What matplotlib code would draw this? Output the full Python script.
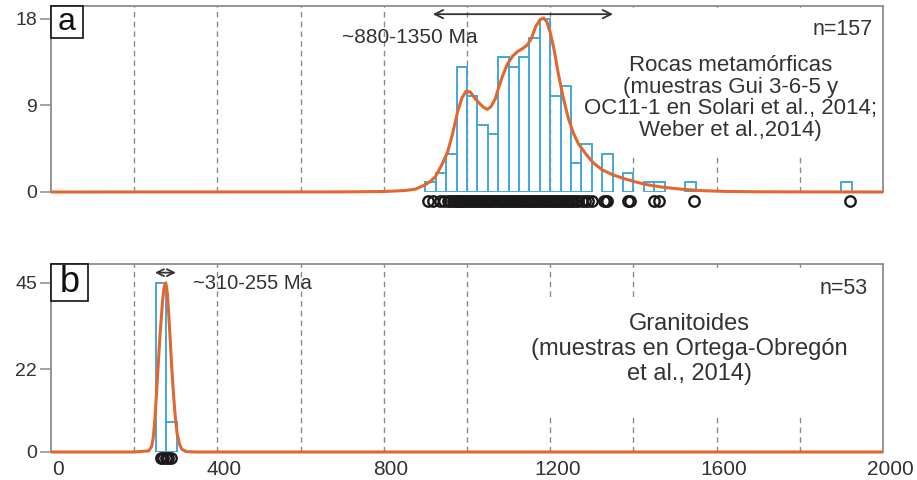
import matplotlib
matplotlib.use("Agg")
import matplotlib.pyplot as plt
import matplotlib.transforms as mtransforms
from matplotlib.patches import Rectangle

plt.rcParams['font.family'] = ['Liberation Sans', 'DejaVu Sans']

# ------------------------------------------------------------------ data
grid_ages = [200, 400, 600, 800, 1000, 1200, 1400, 1600, 1800]
x_ticks = [0, 400, 800, 1200, 1600, 2000]

# panel a: metamorphic rocks (n=157), 25 Ma bins (left edges of non-empty bins)
a_bin_left = [900, 925, 950, 975, 1000, 1025, 1050, 1075, 1100, 1125, 1150,
              1175, 1200, 1225, 1250, 1275, 1325, 1375, 1425, 1450, 1525, 1900]
a_counts = [1, 2, 4, 13, 10, 7, 6, 14, 13, 14, 16,
            18, 10, 11, 3, 5, 4, 2, 1, 1, 1, 1]
a_kde_age = [0, 700, 800, 850, 876, 900, 912, 924, 938, 953, 965, 977, 988,
             998, 1008, 1018, 1028, 1040, 1049, 1058, 1068, 1077, 1085, 1097,
             1109, 1121, 1133, 1145, 1155, 1165, 1175, 1184, 1192, 1200, 1208,
             1220, 1232, 1244, 1256, 1268, 1285, 1302, 1325, 1350, 1377, 1405,
             1434, 1470, 1514, 1560, 1620, 1700, 1800, 2000]
a_kde_val = [0, 0.01, 0.05, 0.15, 0.3, 0.75, 1.1, 1.6, 2.7, 4.1, 6.0, 8.3, 9.8,
             10.5, 10.4, 9.8, 9.3, 8.8, 8.6, 8.9, 9.7, 11.0, 12.0, 13.3,
             14.1, 14.6, 14.9, 15.3, 16.0, 17.2, 17.9, 18.1, 17.7, 16.6, 15.1,
             12.2, 9.7, 7.6, 6.1, 5.0, 4.0, 3.1, 2.3, 1.8, 1.4, 1.05,
             0.75, 0.5, 0.3, 0.15, 0.06, 0.02, 0.01, 0]
a_ages = [906, 919, 934, 944,
          955, 960, 966, 971, 975, 979, 984, 988, 993, 997, 1002, 1007, 1012,
          1016, 1021, 1026, 1031, 1036, 1041, 1046, 1051, 1056, 1061, 1066,
          1071, 1076, 1081, 1086, 1091, 1096, 1101, 1106, 1111, 1116, 1121,
          1126, 1131, 1136, 1141, 1146, 1151, 1156, 1161, 1166, 1171, 1176,
          1181, 1186, 1191, 1196, 1201, 1206, 1211, 1216, 1221, 1226, 1231,
          1236, 1241, 1246, 1251, 1256, 1262, 1268,
          1276, 1284, 1292, 1300, 1330, 1334, 1336, 1388, 1391,
          1449, 1462, 1545, 1921]

# panel b: granitoids (n=53)
b_bin_left = [252, 277]
b_counts = [45, 8]
b_kde_age = [0, 200, 235, 242, 246, 250, 256, 262, 268, 272, 276, 280, 285,
             290, 294, 299, 303, 309, 315, 325, 350, 2000]
b_kde_val = [0, 0, 0.3, 1.5, 4, 9, 20, 31, 40, 44, 45, 42, 33,
             23, 16, 9, 5, 2, 0.7, 0.1, 0, 0]
b_ages = [264, 270, 276, 282, 288]

a_yticks = [0, 9, 18]
b_yticks = [0, 22, 45]

# ------------------------------------------------------------------ style
BAR_C = "#45A7DC"
KDE_C = "#E2672E"
GRID_C = "#8a8a8a"
SPINE_C = "#8c8c8c"
TXT_C = "#333333"
BIN_W = 25

fig = plt.figure(figsize=(9.17, 4.8), dpi=100)
ax_a = fig.add_axes([51 / 917, 1 - 192 / 480, 832 / 917, 186 / 480])
ax_b = fig.add_axes([51 / 917, 1 - 452 / 480, 832 / 917, 188 / 480])


def panel(ax, ymax, yticks, bins, counts, kde_x, kde_y, ages, y_circ, covers,
          letter, box_w, box_h, letter_size):
    ax.set_xlim(0, 2000)
    ax.set_ylim(0, ymax)
    for g in grid_ages:
        ax.axvline(g, color=GRID_C, lw=1, ls=(0, (4, 3)), zorder=1)
    for (x0, y0, w, h) in covers:
        ax.add_patch(Rectangle((x0, y0), w, h, transform=ax.transAxes,
                               facecolor="white", edgecolor="none", zorder=1.5))
    ax.bar(bins, counts, width=BIN_W, align="edge", fill=False,
           edgecolor=BAR_C, linewidth=1.4, zorder=2)
    ax.plot(kde_x, kde_y, color=KDE_C, lw=2.2, zorder=3, clip_on=False,
            solid_capstyle="butt")
    ax.plot(ages, [y_circ] * len(ages), ls="none", marker="o", ms=7.5,
            mfc="none", mec="#1a1a1a", mew=1.7, clip_on=False, zorder=3)

    for s in ["left", "top", "right"]:
        ax.spines[s].set_color(SPINE_C)
        ax.spines[s].set_linewidth(1.3)
    ax.spines["bottom"].set_visible(False)
    ax.set_yticks(yticks)
    ax.tick_params(axis="y", direction="out", length=8, width=1.1,
                   color=SPINE_C, labelsize=14, labelcolor=TXT_C, pad=2)
    ax.set_xticks(x_ticks)
    ax.tick_params(axis="x", length=0, labelsize=15, labelcolor=TXT_C, pad=6)

    ax.add_patch(Rectangle((0, 1 - box_h), box_w, box_h, transform=ax.transAxes,
                           facecolor="white", edgecolor="#111111", lw=1.2,
                           zorder=6, clip_on=False))
    ax.text(box_w / 2, 1 - box_h / 2, letter, transform=ax.transAxes,
            ha="center", va="center", fontsize=letter_size, color="#111111",
            zorder=7)


panel(ax_a, 19.35, a_yticks, a_bin_left, a_counts, a_kde_age, a_kde_val,
      a_ages, -0.95, [(0.648, 0.199, 0.35, 0.78)], "a", 0.0385, 0.172, 23)
panel(ax_b, 50.0, b_yticks, b_bin_left, b_counts, b_kde_age, b_kde_val,
      b_ages, -1.6, [(0.570, 0.197, 0.43, 0.622), (0.780, 0.81, 0.22, 0.16)],
      "b", 0.0445, 0.197, 26)

ax_a.tick_params(axis="x", labelbottom=False)

# x labels sit a little right of their grid lines in the original
shift = mtransforms.ScaledTranslation(7 / 100, 0, fig.dpi_scale_trans)
for lab in ax_b.get_xticklabels():
    lab.set_transform(lab.get_transform() + shift)

# ---- panel a annotations
ax_a.annotate("", xy=(1351, 18.5), xytext=(918, 18.5),
              arrowprops=dict(arrowstyle="<->,head_length=0.6,head_width=0.3",
                              color=TXT_C, lw=1.3, shrinkA=0, shrinkB=0),
              zorder=5)
ax_a.text(863, 16.1, "~880-1350 Ma", ha="center", va="center", fontsize=15,
          color=TXT_C, zorder=5)
ax_a.text(0.988, 0.871, "n=157", transform=ax_a.transAxes, ha="right",
          va="center", fontsize=15.5, color=TXT_C, zorder=5)
ax_a.text(0.817, 0.505,
          "Rocas metamórficas\n(muestras Gui 3-6-5 y\n"
          "OC11-1 en Solari et al., 2014;\nWeber et al.,2014)",
          transform=ax_a.transAxes, ha="center", va="center", fontsize=16,
          color=TXT_C, linespacing=1.04, zorder=5)

# ---- panel b annotations
ax_b.annotate("", xy=(300, 47.7), xytext=(250, 47.7),
              arrowprops=dict(arrowstyle="<->,head_length=0.5,head_width=0.25",
                              color=TXT_C, lw=1.3, shrinkA=0, shrinkB=0),
              zorder=5)
ax_b.text(341, 44.9, "~310-255 Ma", ha="left", va="center", fontsize=14.5,
          color=TXT_C, zorder=5)
ax_b.text(0.981, 0.872, "n=53", transform=ax_b.transAxes, ha="right",
          va="center", fontsize=15.5, color=TXT_C, zorder=5)
ax_b.text(0.767, 0.548,
          "Granitoides\n(muestras en Ortega-Obregón\net al., 2014)",
          transform=ax_b.transAxes, ha="center", va="center", fontsize=17,
          color=TXT_C, linespacing=1.15, zorder=5)

fig.savefig("out.png", dpi=100)
